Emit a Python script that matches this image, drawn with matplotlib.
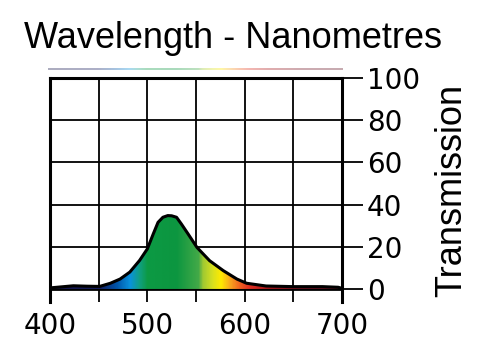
import matplotlib.pyplot as plt
import numpy as np
from matplotlib.colors import LinearSegmentedColormap

# transmission curve
wavelength = [400, 412, 424, 438, 451, 462, 472, 482, 492, 500, 506, 511, 516,
              521, 525, 530, 535, 542, 551, 564, 578, 592, 602, 622, 650, 680,
              696, 700]
transmission = [0.5, 1.0, 1.5, 1.3, 1.2, 2.7, 4.7, 8.0, 13.5, 19.0, 26.0, 31.6,
                34.0, 34.8, 34.7, 34.0, 30.8, 26.0, 19.7, 13.4, 8.7, 4.7, 2.7,
                1.4, 1.1, 1.1, 0.8, 0.3]

x_ticks = [400, 500, 600, 700]
y_ticks = [0, 20, 40, 60, 80, 100]

# colours used to paint the area under the curve
spec_nm = [400, 450, 468, 482, 492, 500, 530, 553, 557, 567, 576, 585, 595,
           605, 625, 660, 700]
spec_col = ['#14144a', '#141c60', '#0054a8', '#0a92dc', '#10a080', '#0c9a44',
            '#0c9640', '#44aa48', '#9ec832', '#d6e020', '#ffea00', '#f8a81e',
            '#f06420', '#e03022', '#a81418', '#701020', '#601020']


def main():
    pos = [(n - 400) / 300 for n in spec_nm]
    cmap = LinearSegmentedColormap.from_list('spec', list(zip(pos, spec_col)))

    fig = plt.figure(figsize=(5, 3.52), dpi=100)
    plt.rcParams['font.family'] = ['Liberation Sans', 'DejaVu Sans']

    ax = fig.add_axes([0.1, 0.142, 0.584, 0.636])
    ax.set_xlim(400, 700)
    ax.set_ylim(-6.2, 100)

    # grid
    for gx in range(450, 700, 50):
        ax.axvline(gx, color='black', lw=1.3, zorder=1)
    for gy in y_ticks:
        ax.axhline(gy, color='black', lw=2.0 if gy == 0 else 1.3, zorder=1)

    # coloured fill clipped to the curve
    poly = ax.fill_between(wavelength, transmission, 0, color='none', zorder=2)
    grad = np.linspace(0, 1, 600).reshape(1, -1)
    im = ax.imshow(grad, cmap=cmap, extent=[400, 700, 0, 40], aspect='auto',
                   zorder=2)
    im.set_clip_path(poly.get_paths()[0], transform=ax.transData)
    ax.plot(wavelength, transmission, color='black', lw=2.2, zorder=4,
            solid_capstyle='round')

    for s in ['left', 'right', 'top']:
        ax.spines[s].set_linewidth(2.2)
        ax.spines[s].set_zorder(5)
    ax.spines['bottom'].set_visible(False)

    ax.set_xticks(x_ticks)
    ax.tick_params(axis='x', length=0, pad=7)
    ax.yaxis.tick_right()
    ax.set_yticks(y_ticks)
    ax.tick_params(axis='y', direction='out', length=15, width=1.3, pad=3)
    for lab in ax.get_xticklabels() + ax.get_yticklabels():
        lab.set_family('DejaVu Sans')
        lab.set_fontsize(20)
    ax.yaxis.set_label_position('right')
    ax.set_ylabel('Transmission', fontsize=26, labelpad=10)

    fig.text(0.048, 0.865, 'Wavelength - Nanometres', fontsize=26,
             ha='left', va='baseline')

    # faint spectrum strip under the title
    sax = fig.add_axes([0.096, 0.801, 0.59, 0.007])
    sax.imshow(grad, cmap=cmap, aspect='auto', alpha=0.35)
    sax.axis('off')

    fig.savefig('out.png', dpi=100)


if __name__ == '__main__':
    main()
